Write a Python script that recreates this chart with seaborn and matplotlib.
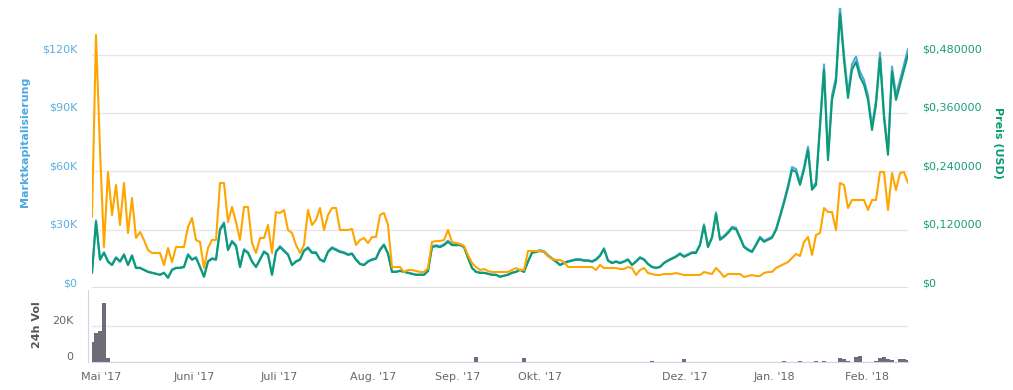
import numpy as np
import pandas as pd
import matplotlib
matplotlib.use("Agg")
import matplotlib.pyplot as plt
import seaborn as sns

# Preis (USD), evenly spaced samples along the ordinal time axis (Apr '17 -> Feb '18)
price_usd = [
    0.031, 0.136, 0.058, 0.072, 0.054, 0.047, 0.062, 0.054, 0.068, 0.047,
    0.066, 0.041, 0.041, 0.037, 0.033, 0.031, 0.029, 0.027, 0.031, 0.021,
    0.037, 0.041, 0.041, 0.043, 0.068, 0.058, 0.062, 0.043, 0.023, 0.054,
    0.060, 0.058, 0.119, 0.132, 0.078, 0.095, 0.086, 0.043, 0.078, 0.072,
    0.054, 0.043, 0.058, 0.074, 0.068, 0.027, 0.074, 0.084, 0.076, 0.068,
    0.047, 0.054, 0.058, 0.076, 0.082, 0.072, 0.072, 0.058, 0.054, 0.074,
    0.082, 0.078, 0.074, 0.072, 0.068, 0.070, 0.058, 0.049, 0.047, 0.054,
    0.058, 0.060, 0.078, 0.088, 0.070, 0.033, 0.033, 0.035, 0.033, 0.031,
    0.029, 0.027, 0.027, 0.027, 0.035, 0.084, 0.086, 0.084, 0.088, 0.095,
    0.088, 0.088, 0.088, 0.084, 0.062, 0.041, 0.033, 0.031, 0.031, 0.029,
    0.027, 0.027, 0.023, 0.025, 0.027, 0.031, 0.033, 0.037, 0.033, 0.054,
    0.072, 0.074, 0.076, 0.074, 0.066, 0.060, 0.054, 0.047, 0.051, 0.054,
    0.056, 0.058, 0.058, 0.056, 0.056, 0.054, 0.058, 0.066, 0.080, 0.056,
    0.051, 0.054, 0.051, 0.054, 0.058, 0.047, 0.054, 0.062, 0.058, 0.049,
    0.043, 0.041, 0.043, 0.051, 0.056, 0.060, 0.064, 0.070, 0.064, 0.068,
    0.072, 0.072, 0.088, 0.128, 0.084, 0.103, 0.152, 0.099, 0.105, 0.113,
    0.123, 0.121, 0.103, 0.084, 0.078, 0.074, 0.088, 0.103, 0.095, 0.099,
    0.103, 0.119, 0.146, 0.175, 0.206, 0.243, 0.239, 0.212, 0.243, 0.284,
    0.202, 0.212, 0.329, 0.449, 0.263, 0.387, 0.424, 0.564, 0.469, 0.391,
    0.449, 0.465, 0.434, 0.418, 0.387, 0.325, 0.377, 0.473, 0.350, 0.274,
    0.445, 0.387, 0.418, 0.449, 0.480,
]

# Preis (BTC) in Satoshi -- orange line, own hidden axis
price_sat = [
    71, 253, 138, 41, 116, 73, 103, 63, 105, 55,
    90, 50, 56, 48, 38, 35, 35, 35, 23, 40,
    26, 41, 41, 41, 61, 70, 48, 46, 20, 40,
    48, 48, 105, 105, 66, 81, 66, 48, 81, 81,
    45, 35, 50, 50, 63, 35, 76, 75, 78, 58,
    55, 43, 35, 43, 78, 63, 68, 80, 58, 73,
    80, 80, 58, 58, 58, 59, 43, 48, 50, 45,
    51, 51, 73, 75, 63, 21, 21, 21, 16, 18,
    18, 17, 16, 16, 20, 46, 47, 47, 48, 58,
    46, 45, 44, 42, 33, 25, 21, 18, 19, 17,
    16, 16, 16, 16, 16, 18, 20, 18, 18, 37,
    37, 37, 37, 36, 32, 29, 28, 28, 26, 21,
    21, 21, 21, 21, 21, 21, 18, 23, 20, 20,
    20, 20, 19, 19, 21, 20, 13, 18, 20, 15,
    14, 13, 13, 14, 14, 14, 15, 14, 13, 13,
    13, 13, 13, 16, 15, 14, 20, 16, 11, 14,
    14, 14, 14, 11, 12, 13, 12, 12, 15, 16,
    16, 20, 22, 24, 26, 30, 34, 32, 46, 51,
    33, 53, 55, 80, 76, 76, 58, 105, 103, 80,
    88, 88, 88, 88, 78, 88, 88, 116, 116, 78,
    115, 98, 115, 116, 105,
]

# circulating supply -> Marktkapitalisierung = Preis * supply
supply = 256000

# 24h volume (USD), only samples with a visible bar
vol_idx = [0, 1, 2, 3, 4, 96, 108, 140, 148, 173, 177, 181, 183, 187, 188,
           189, 191, 192, 196, 197, 198, 199, 200, 202, 203, 204]
vol_usd = [11000, 16000, 17500, 33000, 2000, 3000, 2200, 700, 1700, 400, 500, 600,
           700, 2000, 1500, 600, 3000, 3500, 800, 2500, 2800, 1500, 1000, 1500, 1700, 1200]

month_labels = ["Mai '17", "Juni '17", "Juli '17", "Aug. '17", "Sep. '17",
                "Okt. '17", "Dez. '17", "Jan. '18", "Feb. '18"]
month_pos = [2.25, 25.5, 46.75, 70.25, 91.5, 112, 148.25, 170.5, 193.75]

BLUE = "#4ea8de"
GREEN = "#0b9b72"
ORANGE = "#ffa500"
GREY_BAR = "#6e6c76"
GRID = "#e6e6e6"
AXLINE = "#ccd6eb"

sns.set_style("white")
plt.rcParams["font.family"] = ["DejaVu Sans"]

n = len(price_usd)
df = pd.DataFrame({"idx": np.arange(n), "price": price_usd, "sat": price_sat})
df["mcap"] = df["price"] * supply
vol = pd.DataFrame({"idx": vol_idx, "vol": vol_usd})

W, H = 1013, 390
fig = plt.figure(figsize=(W / 100, H / 100), dpi=100)
ax = fig.add_axes([92 / W, 1 - 288 / H, 816 / W, 280 / H])
axv = fig.add_axes([92 / W, 1 - 362 / H, 816 / W, 72 / H])
ax_p = ax.twinx()
ax_b = ax.twinx()

# -------- lines --------
sns.lineplot(data=df, x="idx", y="mcap", ax=ax, color=BLUE, linewidth=1.5, legend=False)
sns.lineplot(data=df, x="idx", y="price", ax=ax_p, color=GREEN, linewidth=1.5, legend=False)
sns.lineplot(data=df, x="idx", y="sat", ax=ax_b, color=ORANGE, linewidth=1.5, legend=False)

for a in (ax, ax_p, ax_b):
    a.set_xlim(0, n - 1)
    a.set_xticks([])
    a.set_xlabel("")
    a.set_ylabel("")
    for s in a.spines.values():
        s.set_visible(False)

ax.set_ylim(0, 144000)
ax_p.set_ylim(0, 0.576)
ax_b.set_ylim(0, 280)
ax_b.set_yticks([])

left_ticks = [0, 30000, 60000, 90000, 120000]
ax.set_yticks(left_ticks)
ax.set_yticklabels(["$0" if v == 0 else f"${v // 1000}K" for v in left_ticks])
ax.tick_params(axis="y", length=0, pad=10.5, labelsize=8, labelcolor="#5aaee0")
ax.grid(axis="y", color=GRID, linewidth=1)
ax.axhline(0, color="#dedede", linewidth=2.2, zorder=0)

right_ticks = [0, 0.12, 0.24, 0.36, 0.48]
ax_p.set_yticks(right_ticks)
ax_p.set_yticklabels(["$0" if v == 0 else ("$" + f"{v:.6f}".replace(".", ",")) for v in right_ticks])
ax_p.tick_params(axis="y", length=0, pad=10.5, labelsize=8, labelcolor="#1a9c7c")
ax_p.grid(False)
ax_b.grid(False)

# -------- volume panel --------
sns.barplot(data=vol, x="idx", y="vol", ax=axv, native_scale=True, color=GREY_BAR,
            saturation=1, errorbar=None, width=1.0, linewidth=0)
axv.set_xlim(0, n - 1)
axv.set_ylim(0, 40000)
axv.set_yticks([0, 20000])
axv.set_yticklabels(["0", "20K"])
axv.tick_params(axis="y", length=0, pad=10.5, labelsize=8, labelcolor="#666666")
axv.grid(axis="y", color=GRID, linewidth=1)
axv.set_axisbelow(True)
axv.set_xticks(month_pos)
axv.set_xticklabels(month_labels)
axv.tick_params(axis="x", length=6, width=1, color=AXLINE, pad=1.5, labelsize=8,
                labelcolor="#666666")
axv.set_xlabel("")
axv.set_ylabel("")
for side in ("top", "right"):
    axv.spines[side].set_visible(False)
axv.spines["bottom"].set_color(AXLINE)
axv.spines["left"].set_color(AXLINE)
axv.spines["left"].set_position(("outward", 3))

for a in (ax, ax_p, axv):
    for lab in a.get_yticklabels():
        lab.set_va("bottom")

# -------- axis titles --------
fig.text(25 / W, 1 - 142 / H, "Marktkapitalisierung", rotation=90, ha="center", va="center",
         color="#4ea8de", fontsize=8, fontweight="bold")
fig.text(998 / W, 1 - 143 / H, "Preis (USD)", rotation=270, ha="center", va="center",
         color=GREEN, fontsize=8, fontweight="bold")
fig.text(37 / W, 1 - 325 / H, "24h Vol", rotation=90, ha="center", va="center",
         color="#555555", fontsize=8, fontweight="bold")

fig.savefig("out.png", dpi=100)
